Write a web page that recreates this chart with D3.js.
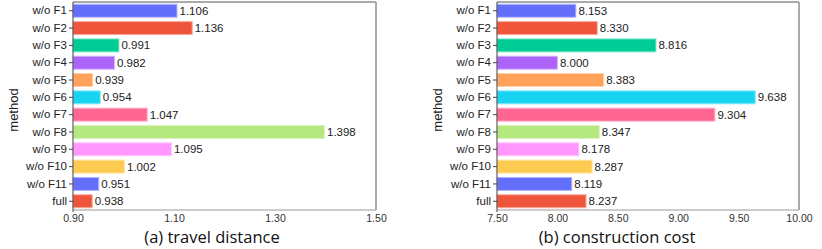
<!DOCTYPE html>
<html><head><meta charset="utf-8">
<script src="https://cdn.jsdelivr.net/npm/d3@7"></script>
<style>body{margin:0;background:#fff}svg{display:block}</style>
</head><body>
<svg id="c" width="822" height="249"></svg>
<script>
const methods = ["w/o F1","w/o F2","w/o F3","w/o F4","w/o F5","w/o F6","w/o F7","w/o F8","w/o F9","w/o F10","w/o F11","full"];
const travelDistance = [1.106,1.136,0.991,0.982,0.939,0.954,1.047,1.398,1.095,1.002,0.951,0.938];
const constructionCost = [8.153,8.330,8.816,8.000,8.383,9.638,9.304,8.347,8.178,8.287,8.119,8.237];
const colors = ["#636EFA","#EF553B","#00CC96","#AB63FA","#FFA15A","#19D3F3","#FF6692","#B6E880","#FF97FF","#FECB52","#636EFA","#EF553B"];
const ticksA = [0.90,1.10,1.30,1.50];
const ticksB = [7.50,8.00,8.50,9.00,9.50,10.00];

const svg = d3.select("#c");
function panel(x0, x1, domain, ticks, values, title, titleX) {
  const top = 2, bottom = 210;
  const x = d3.scaleLinear().domain(domain).range([x0, x1]);
  const y = d3.scaleBand().domain(methods).range([top, bottom]).paddingInner(0.25).paddingOuter(0.13);
  const g = svg.append("g");
  g.append("line").attr("x1", x0).attr("x2", x1).attr("y1", top).attr("y2", top).attr("stroke", "#555").attr("stroke-width", 1);
  g.append("line").attr("x1", x0).attr("x2", x1).attr("y1", bottom).attr("y2", bottom).attr("stroke", "#999").attr("stroke-width", 1);
  g.append("line").attr("x1", x1).attr("x2", x1).attr("y1", top).attr("y2", bottom).attr("stroke", "#aaa").attr("stroke-width", 2);
  g.selectAll("rect.bar").data(values).join("rect")
    .attr("x", x(domain[0]))
    .attr("y", (d, i) => y(methods[i]))
    .attr("width", d => x(d) - x(domain[0]))
    .attr("height", y.bandwidth())
    .attr("fill", (d, i) => colors[i])
    .attr("stroke", (d, i) => d3.interpolateRgb(colors[i], "#fff")(0.5))
    .attr("stroke-width", 1);
  g.selectAll("text.val").data(values).join("text")
    .attr("x", d => x(d) + 2.5)
    .attr("y", (d, i) => y(methods[i]) + y.bandwidth() / 2)
    .attr("dy", "0.35em")
    .attr("font-family", "Liberation Sans, Arial, sans-serif")
    .attr("font-size", 11.5)
    .attr("fill", "#222")
    .text(d => d.toFixed(3));
  const ya = g.append("g").attr("transform", `translate(${x0},0)`)
    .call(d3.axisLeft(y).tickSize(4).tickPadding(2).tickSizeOuter(0));
  ya.select(".domain").attr("stroke", "#444");
  ya.selectAll(".tick line").attr("stroke", "#444");
  ya.selectAll("text").attr("font-family", "Liberation Sans, Arial, sans-serif").attr("font-size", 11.5).attr("fill", "#222");
  ya.select(".domain").attr("d", `M0,${top}V${bottom + 2}`);
  const xa = g.append("g").attr("transform", `translate(0,${bottom})`)
    .call(d3.axisBottom(x).tickValues(ticks).tickSize(0).tickPadding(5).tickFormat(d3.format(".2f")));
  xa.select(".domain").remove();
  xa.selectAll("text").attr("font-family", "Liberation Sans, Arial, sans-serif").attr("font-size", 10.5).attr("fill", "#333");
  g.append("text").attr("transform", `translate(${x0 - 55},${(top + bottom) / 2 + 4}) rotate(-90)`)
    .attr("text-anchor", "middle").attr("font-family", "Liberation Sans, Arial, sans-serif").attr("font-size", 13).attr("fill", "#222")
    .text("method");
  g.append("text").attr("x", titleX).attr("y", 243).attr("text-anchor", "middle")
    .attr("font-family", "Open Sans, Lato, sans-serif").attr("font-size", 16.5).attr("fill", "#111")
    .text(title);
}
panel(73, 376, [0.9, 1.5], ticksA, travelDistance, "(a) travel distance", 212);
panel(497, 799, [7.5, 10.0], ticksB, constructionCost, "(b) construction cost", 617);
</script>
</body></html>
